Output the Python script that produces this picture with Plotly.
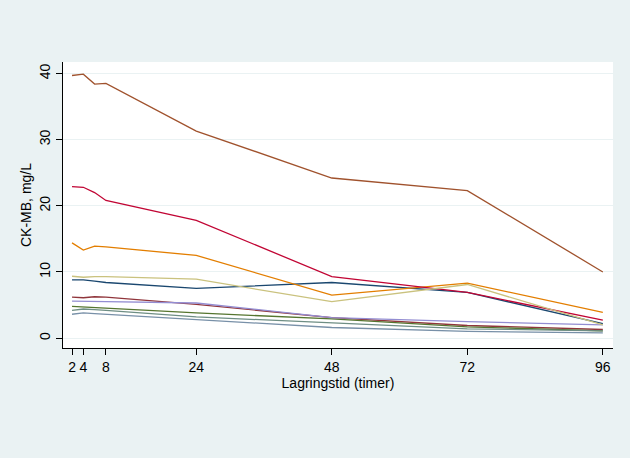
import plotly.graph_objects as go

hours = [2, 4, 6, 8, 24, 48, 72, 96]

sienna    = [39.7, 39.9, 38.4, 38.5, 31.3, 24.2, 22.3, 10.0]
cranberry = [22.9, 22.8, 22.0, 20.8, 17.8, 9.3, 6.9, 2.7]
dkorange  = [14.4, 13.3, 13.9, 13.8, 12.5, 6.5, 8.3, 3.9]
khaki     = [9.35, 9.2, 9.3, 9.3, 8.9, 5.5, 8.1, 2.0]
navy      = [8.8, 8.8, 8.6, 8.4, 7.5, 8.4, 6.9, 2.2]
maroon    = [6.2, 6.1, 6.25, 6.2, 5.1, 3.1, 1.9, 1.3]
lavender  = [5.6, 5.6, 5.5, 5.5, 5.3, 3.1, 2.5, 2.0]
forest    = [4.8, 4.7, 4.7, 4.6, 3.8, 2.9, 1.7, 1.1]
teal      = [4.2, 4.4, 4.3, 4.2, 3.2, 2.3, 1.4, 1.1]
emidblue  = [3.6, 3.8, 3.7, 3.6, 2.8, 1.6, 1.0, 0.8]

series = [
    (navy, "#1a476f"),
    (maroon, "#90353b"),
    (forest, "#55752f"),
    (dkorange, "#e37e00"),
    (teal, "#6e8e84"),
    (cranberry, "#c10534"),
    (lavender, "#938dd2"),
    (khaki, "#cac27e"),
    (sienna, "#a0522d"),
    (emidblue, "#7890a8"),
]

x_ticks = [2, 4, 8, 24, 48, 72, 96]
y_ticks = [0, 10, 20, 30, 40]

fig = go.Figure()
for vals, col in series:
    fig.add_trace(go.Scatter(x=hours, y=vals, mode="lines",
                             line=dict(color=col, width=1.3),
                             showlegend=False, hoverinfo="skip"))

font = dict(family="Liberation Sans, Arial, sans-serif", size=14, color="#000000")

fig.update_layout(
    width=630, height=458,
    margin=dict(l=63, r=17, t=62, b=110),
    paper_bgcolor="#eaf2f3",
    plot_bgcolor="#ffffff",
    font=font,
    showlegend=False,
    xaxis=dict(
        range=[0.4, 97.8], tickmode="array", tickvals=x_ticks,
        ticktext=[str(t) for t in x_ticks],
        showgrid=False, zeroline=False,
        showline=True, linecolor="#000000", linewidth=1,
        ticks="outside", ticklen=6, tickcolor="#000000", tickwidth=1,
        tickfont=dict(size=14),
        title=dict(text="Lagringstid (timer)", font=dict(size=14), standoff=2),
    ),
    yaxis=dict(
        range=[-1.5, 41.74], tickmode="array", tickvals=y_ticks,
        ticktext=[str(t) for t in y_ticks], tickangle=-90,
        showgrid=True, gridcolor="#eaf2f3", gridwidth=1.2, zeroline=False,
        showline=True, linecolor="#000000", linewidth=1,
        ticks="outside", ticklen=6, tickcolor="#000000", tickwidth=1,
        tickfont=dict(size=14),
        title=dict(text="CK-MB, mg/L", font=dict(size=14), standoff=2),
    ),
)

fig.write_html("out.html")
